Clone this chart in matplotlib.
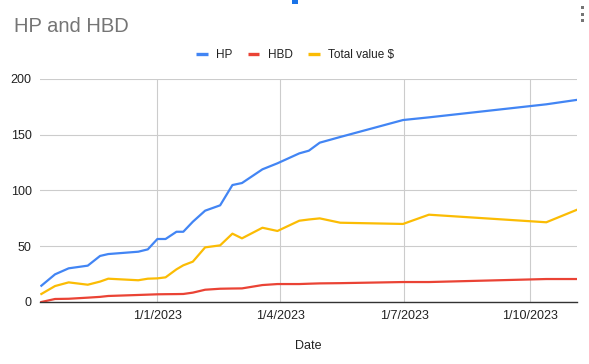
import matplotlib
matplotlib.use("Agg")
import matplotlib.pyplot as plt
from matplotlib.lines import Line2D
from matplotlib.patches import Rectangle
import datetime as dt

plt.rcParams['font.family'] = ['Liberation Sans', 'DejaVu Sans']

dates = ["2022-10-08", "2022-10-18", "2022-10-28", "2022-11-11", "2022-11-20", "2022-11-26",
         "2022-12-18", "2022-12-25", "2023-01-01", "2023-01-07", "2023-01-15", "2023-01-20",
         "2023-01-27", "2023-02-05", "2023-02-16", "2023-02-25", "2023-03-04", "2023-03-19",
         "2023-03-30", "2023-04-15", "2023-04-22", "2023-04-30", "2023-05-15", "2023-06-30",
         "2023-07-19", "2023-10-13", "2023-11-04"]
hp = [14.6, 24.8, 30.2, 32.6, 41.3, 43.0, 45.1, 47.2, 56.5, 56.5, 63.0, 63.0, 72.0, 81.9,
      86.7, 104.9, 106.7, 119.0, 124.4, 133.3, 135.7, 142.9, 148.0, 163.2, 165.6, 177.3, 181.2]
hbd = [0.0, 2.7, 2.9, 3.9, 4.6, 5.4, 6.3, 6.6, 6.9, 7.0, 7.1, 7.2, 8.4, 11.0, 11.9, 12.1,
       12.2, 15.2, 16.1, 16.1, 16.4, 16.7, 16.9, 17.9, 17.9, 20.6, 20.6]
total = [7.2, 14.3, 17.6, 15.5, 18.3, 20.9, 19.5, 20.9, 21.2, 22.1, 29.3, 32.9, 36.2, 49.0,
         50.8, 61.3, 57.1, 66.6, 63.7, 72.9, 74.0, 75.0, 71.1, 70.0, 78.3, 71.5, 82.5]
series_names = ["HP", "HBD", "Total value $"]
tick_dates = ["2023-01-01", "2023-04-01", "2023-07-01", "2023-10-01"]
tick_labels = ["1/1/2023", "1/4/2023", "1/7/2023", "1/10/2023"]
y_ticks = [0, 50, 100, 150, 200]

x = [dt.datetime.strptime(d, "%Y-%m-%d") for d in dates]
W, H = 589, 364
fig = plt.figure(figsize=(W / 100, H / 100), dpi=100)
ax = fig.add_axes([40 / W, 1 - 302 / H, (577 - 40) / W, (302 - 79) / H])

colors = ["#4285F4", "#EA4335", "#FBBC04"]
for vals, c, n in zip([hp, hbd, total], colors, series_names):
    ax.plot(x, vals, color=c, lw=1.6, label=n, solid_joinstyle='round', zorder=3)

ax.set_ylim(0, 200)
ax.set_xlim(dt.datetime(2022, 10, 7), dt.datetime(2023, 11, 4, 12))
ax.set_yticks(y_ticks)
ax.set_yticklabels([str(v) for v in y_ticks])
tx = [dt.datetime.strptime(d, "%Y-%m-%d") for d in tick_dates]
ax.set_xticks(tx)
ax.set_xticklabels(tick_labels)
ax.grid(True, color="#cccccc", lw=0.8, zorder=0)
ax.set_axisbelow(True)
for s in ["left", "right", "top"]:
    ax.spines[s].set_visible(False)
ax.spines["bottom"].set_color("#333333")
ax.spines["bottom"].set_linewidth(1.0)
ax.spines["bottom"].set_zorder(4)
ax.tick_params(axis="both", length=0, labelsize=9, labelcolor="#222222")
ax.tick_params(axis="y", pad=6)
ax.tick_params(axis="x", pad=6)
ax.set_xlabel("Date", fontsize=9, color="#222222", labelpad=13)

fig.text(14 / W, 1 - 26 / H, "HP and HBD", fontsize=14.5, color="#757575", va="center", ha="left")

handles = [Line2D([0], [0], color=c, lw=2.4, solid_capstyle="butt") for c in colors]
fig.legend(handles, series_names, loc="center", bbox_to_anchor=(295 / W, 1 - 55 / H),
           ncol=3, frameon=False, fontsize=8.5, handlelength=1.0, handletextpad=0.7,
           columnspacing=1.3, labelcolor="#222222")

# small UI marks
fig.add_artist(Rectangle((292 / W, 1 - 4 / H), 6 / W, 4 / H, transform=fig.transFigure,
                         color="#1a73e8", lw=0))
for yy in [7, 14, 20]:
    fig.add_artist(Rectangle((580.5 / W, 1 - (yy + 1.5) / H), 3 / W, 3 / H, transform=fig.transFigure,
                             color="#757575", lw=0))

fig.savefig("out.png", dpi=100)
